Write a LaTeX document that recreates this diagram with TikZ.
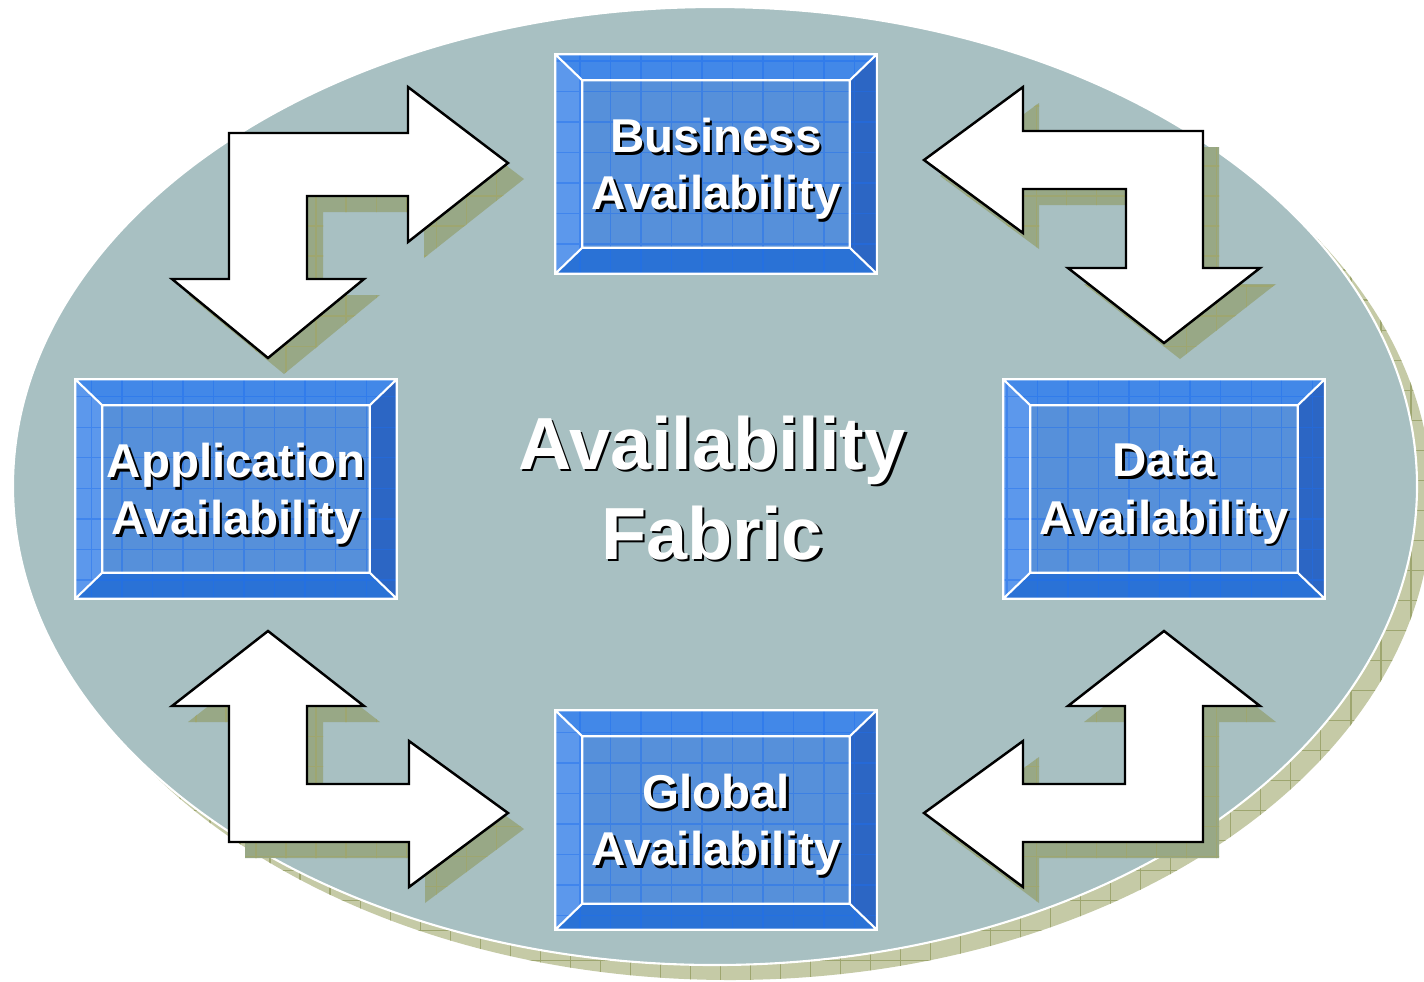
\documentclass[tikz,border=0pt]{standalone}
\usepackage{fontspec}
\setmainfont{Liberation Sans}
\usetikzlibrary{positioning}

\definecolor{fabric}{RGB}{168,192,194}
\definecolor{fabricshade}{RGB}{197,202,166}
\definecolor{shadeline}{RGB}{158,166,112}
\definecolor{arrowshade}{RGB}{152,168,134}
\definecolor{boxface}{RGB}{86,144,218}
\definecolor{boxtop}{RGB}{66,136,232}
\definecolor{boxleft}{RGB}{92,152,236}
\definecolor{boxright}{RGB}{44,102,196}
\definecolor{boxbottom}{RGB}{42,114,214}
\definecolor{boxgrid}{RGB}{30,110,240}

% outlines of the four double arrows
\def\arrowTL{(229,133) -- (408,133) -- (408,87) -- (508,163) -- (408,242) -- (408,196) -- (307,196) -- (307,279) -- (364,279) -- (268,358) -- (172,279) -- (229,279) -- cycle}
\def\arrowTR{(1203,131) -- (1023,131) -- (1023,87) -- (924,160) -- (1023,233) -- (1023,189) -- (1126,189) -- (1126,268) -- (1068,268) -- (1164,343) -- (1260,268) -- (1203,268) -- cycle}
\def\arrowBL{(229,842) -- (409,842) -- (409,887) -- (508,813) -- (409,741) -- (409,784) -- (307,784) -- (307,706) -- (364,706) -- (268,631) -- (172,706) -- (229,706) -- cycle}
\def\arrowBR{(1203,842) -- (1023,842) -- (1023,887) -- (924,813) -- (1023,741) -- (1023,784) -- (1125,784) -- (1125,706) -- (1068,706) -- (1164,631) -- (1260,706) -- (1203,706) -- cycle}

\begin{document}
\begin{tikzpicture}[x=0.01cm,y=-0.01cm,
  olivedrop/.style={fill=#1,path picture={\draw[shadeline,step=0.3cm,line width=0.4pt] (0,0) grid (1440,990);}},
  arrowbody/.style={draw=black,fill=white,line width=0.7pt,line join=miter},
  boxframe/.style={rectangle,fill=boxface,minimum width=3.2cm,minimum height=2.18cm,inner sep=0pt},
  boxinner/.style={rectangle,minimum width=2.66cm,minimum height=1.66cm,inner sep=0pt},
  bevelline/.style={draw=white,line width=0.6pt},
  boxgridline/.style={draw=boxgrid,opacity=0.45,line width=0.4pt,step=0.305cm},
  boxtext/.style={text=white,align=center,font=\bfseries\fontsize{13.5}{16.3}\selectfont,inner sep=0pt},
  fabrictext/.style={text=white,align=center,font=\bfseries\fontsize{21}{25.6}\selectfont,inner sep=0pt},
  dropped/.style={text=black,xshift=0.025cm,yshift=-0.025cm}]
  \path[use as bounding box,fill=white] (0,0) rectangle (1424,981);

  % fabric ellipse and its shadow
  \fill[olivedrop=fabricshade] (730,501) ellipse [x radius=702, y radius=479];
  \draw[white,line width=0.6pt,fill=fabric] (715,486) ellipse [x radius=702, y radius=479];

  % arrow shadows
  \begin{scope}[shift={(16,16)}]
    \fill[olivedrop=arrowshade] \arrowTL;
    \fill[olivedrop=arrowshade] \arrowTR;
    \fill[olivedrop=arrowshade] \arrowBL;
    \fill[olivedrop=arrowshade] \arrowBR;
  \end{scope}
  \draw[arrowbody] \arrowTL;
  \draw[arrowbody] \arrowTR;
  \draw[arrowbody] \arrowBL;
  \draw[arrowbody] \arrowBR;

  % bevelled boxes
  \foreach \n/\cx/\cy/\txt in {bus/716/164/{Business\\Availability},app/236/489/{Application\\Availability},dat/1164/489/{Data\\Availability},glo/716/820/{Global\\Availability}}{
    \node[boxframe] (\n) at (\cx,\cy) {};
    \node[boxinner] (\n-in) at (\cx,\cy) {};
    \fill[boxtop] (\n.north west) -- (\n.north east) -- (\n-in.north east) -- (\n-in.north west) -- cycle;
    \fill[boxleft] (\n.north west) -- (\n-in.north west) -- (\n-in.south west) -- (\n.south west) -- cycle;
    \fill[boxright] (\n.north east) -- (\n.south east) -- (\n-in.south east) -- (\n-in.north east) -- cycle;
    \fill[boxbottom] (\n.south west) -- (\n-in.south west) -- (\n-in.south east) -- (\n.south east) -- cycle;
    \begin{scope}
      \clip (\n.north west) rectangle (\n.south east);
      \draw[boxgridline] (\n.north west) grid (\n.south east);
    \end{scope}
    \draw[bevelline] (\n.north west) rectangle (\n.south east) (\n-in.north west) rectangle (\n-in.south east)
      (\n.north west) -- (\n-in.north west) (\n.north east) -- (\n-in.north east)
      (\n.south west) -- (\n-in.south west) (\n.south east) -- (\n-in.south east);
    \node[boxtext,dropped,yshift=-0.05cm] at (\n) {\txt};
    \node[boxtext,yshift=-0.05cm] (\n-txt) at (\n) {\txt};
  }

  % centre title
  \node[fabrictext,dropped] at (712,488) {Availability\\Fabric};
  \node[fabrictext] (fabric) at (712,488) {Availability\\Fabric};
\end{tikzpicture}
\end{document}
